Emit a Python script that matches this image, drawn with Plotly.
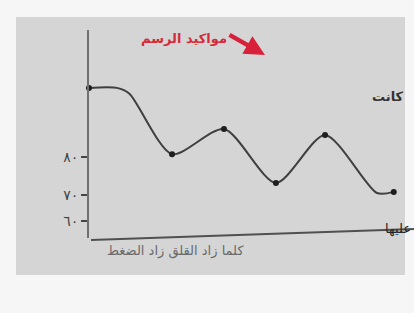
import plotly.graph_objects as go

# ---- data ----
curve_x = [0, 9, 13, 26.7, 43.4, 60.1, 75.9, 92.6, 98]
curve_y = [101.6, 101.6, 99.8, 80.9, 88.75, 71.9, 86.9, 68.75, 69.1]
marker_idx = [0, 3, 4, 5, 6, 8]

tick_vals = [60, 68.1, 80]
tick_text = ["٦٠", "٧٠", "٨٠"]

title_text = "مواكيد الرسم"
x_label = "كلما زاد القلق زاد الضغط"
side_top = "كانت"
side_bottom = "عليها"

AR_FONT = "DejaVu Sans"

mx = [curve_x[i] for i in marker_idx]
my = [curve_y[i] for i in marker_idx]

fig = go.Figure()
fig.add_trace(go.Scatter(
    x=curve_x, y=curve_y, mode="lines",
    line=dict(color="#3f3f3f", width=2, shape="spline", smoothing=0.75),
    hoverinfo="skip", cliponaxis=False, showlegend=False))
fig.add_trace(go.Scatter(
    x=mx, y=my, mode="markers",
    marker=dict(color="#1e1e1e", size=6),
    hoverinfo="skip", cliponaxis=False, showlegend=False))

L, T, W, H = 89, 30, 311, 208


def px(x):
    return (x - L) / W


def py(y):
    return (T + H - y) / H


shapes = [
    dict(type="rect", xref="paper", yref="paper", layer="below",
         x0=px(16), x1=px(405), y0=py(275), y1=py(17),
         fillcolor="#d5d5d5", line=dict(width=0)),
    dict(type="line", xref="paper", yref="paper",
         x0=px(91), y0=py(240), x1=px(414), y1=py(229),
         line=dict(color="#505050", width=2)),
]

annotations = [
    dict(xref="paper", yref="paper", x=px(184), y=py(39), text="<b>" + title_text + "</b>",
         showarrow=False, font=dict(family=AR_FONT, size=13, color="#d52a3b"),
         xanchor="center", yanchor="middle"),
    dict(xref="paper", yref="paper", x=px(265), y=py(55), text="",
         showarrow=True, arrowhead=2, arrowsize=0.9, arrowwidth=4.5,
         arrowcolor="#d8203a", ax=-37, ay=-21),
    dict(xref="paper", yref="paper", x=px(406), y=py(96), text="<b>" + side_top + "</b>",
         showarrow=False, font=dict(family=AR_FONT, size=13, color="#333333"),
         xanchor="right", yanchor="middle"),
    dict(xref="paper", yref="paper", x=px(413), y=py(229), text=side_bottom,
         showarrow=False, font=dict(family=AR_FONT, size=13, color="#222222"),
         xanchor="right", yanchor="middle"),
    dict(xref="paper", yref="paper", x=px(175), y=py(251), text=x_label,
         showarrow=False, font=dict(family=AR_FONT, size=13, color="#6a6a6a"),
         xanchor="center", yanchor="middle"),
]

fig.update_layout(
    width=414, height=313,
    margin=dict(l=L, r=414 - L - W, t=T, b=313 - T - H),
    paper_bgcolor="#f6f6f6", plot_bgcolor="rgba(0,0,0,0)",
    shapes=shapes, annotations=annotations,
    xaxis=dict(range=[0, 100], showgrid=False, zeroline=False,
               showline=False, showticklabels=False, ticks=""),
    yaxis=dict(range=[54.69, 119.69], showgrid=False, zeroline=False,
               showline=True, linecolor="#707070", linewidth=2,
               tickvals=tick_vals, ticktext=tick_text,
               ticks="outside", ticklen=6, tickwidth=2, tickcolor="#444444",
               tickfont=dict(family=AR_FONT, size=14, color="#444444")),
)

fig.write_html("out.html", config={"displayModeBar": False},
               post_script="document.body.style.margin='0';document.body.style.background='#f6f6f6';")
